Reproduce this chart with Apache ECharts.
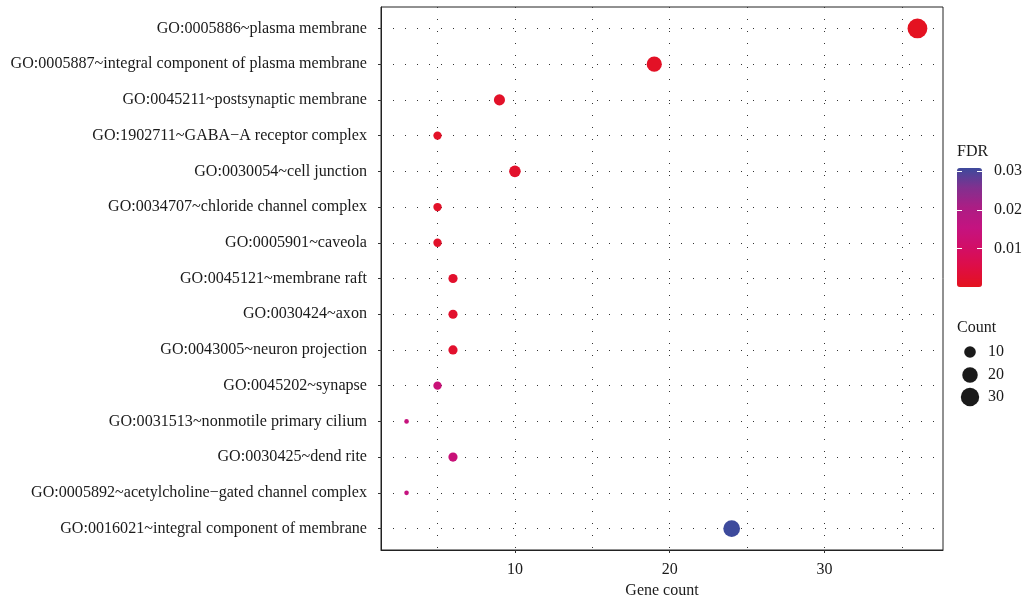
<!DOCTYPE html>
<html>
<head>
<meta charset="utf-8">
<script src="https://cdn.jsdelivr.net/npm/echarts@6/dist/echarts.min.js"></script>
<style>
html,body{margin:0;padding:0;background:#fff;}
#chart{width:1023px;height:599px;}
</style>
</head>
<body>
<div id="chart"></div>
<script>
// ---- data (top row first) ----
const categories = [
  'GO:0005886~plasma membrane',
  'GO:0005887~integral component of plasma membrane',
  'GO:0045211~postsynaptic membrane',
  'GO:1902711~GABA\u2212A receptor complex',
  'GO:0030054~cell junction',
  'GO:0034707~chloride channel complex',
  'GO:0005901~caveola',
  'GO:0045121~membrane raft',
  'GO:0030424~axon',
  'GO:0043005~neuron projection',
  'GO:0045202~synapse',
  'GO:0031513~nonmotile primary cilium',
  'GO:0030425~dend rite',
  'GO:0005892~acetylcholine\u2212gated channel complex',
  'GO:0016021~integral component of membrane'
];
const geneCount = [36, 19, 9, 5, 10, 5, 5, 6, 6, 6, 5, 3, 6, 3, 24];
const fdr = [0.0004, 0.0010, 0.0015, 0.0012, 0.0018, 0.0014, 0.0016, 0.0020, 0.0020, 0.0020, 0.0135, 0.0145, 0.0138, 0.0152, 0.0308];
const xTickLabels = [10, 20, 30];
const xGridValues = [5, 10, 15, 20, 25, 30, 35];
const fdrTicks = [0.01, 0.02, 0.03];
const countLegend = [10, 20, 30];

// ---- helpers ----
const FONT = 'Liberation Serif';
const TXT = '#1a1a1a';
const cMin = Math.min(...geneCount), cMax = Math.max(...geneCount);
function sizeOf(c) {
  const t = Math.max(0, (c - cMin) / (cMax - cMin));
  return 4.6 + 15.2 * Math.sqrt(t);
}
const fdrMin = 0, fdrMax = Math.max(...fdr);
const rowIdx = categories.map((_, i) => i);

// colour bar geometry
const barLeft = 957, barTop = 168, barW = 25, barH = 119;
function barY(v) { return barTop + (1 - (v - fdrMin) / (fdrMax - fdrMin)) * barH; }

const graphics = [];
graphics.push({type: 'text', left: 957, top: 144, style: {text: 'FDR', font: '16px ' + FONT, fill: TXT}});
fdrTicks.forEach(v => {
  const y = Math.round(barY(v)) + 0.5;
  graphics.push({type: 'line', shape: {x1: barLeft, y1: y, x2: barLeft + 5, y2: y}, style: {stroke: '#fff', lineWidth: 1}, z: 100});
  graphics.push({type: 'line', shape: {x1: barLeft + barW - 5, y1: y, x2: barLeft + barW, y2: y}, style: {stroke: '#fff', lineWidth: 1}, z: 100});
  graphics.push({type: 'text', x: 994, y: barY(v), style: {text: v.toFixed(2), font: '16px ' + FONT, fill: TXT, verticalAlign: 'middle'}});
});
graphics.push({type: 'text', left: 957, top: 320, style: {text: 'Count', font: '16px ' + FONT, fill: TXT}});
const legY = [352, 375, 397];
countLegend.forEach((c, i) => {
  graphics.push({type: 'circle', shape: {cx: 970, cy: legY[i], r: sizeOf(c) / 2}, style: {fill: '#1a1a1a'}});
  graphics.push({type: 'text', x: 988, y: legY[i], style: {text: String(c), font: '16px ' + FONT, fill: TXT, verticalAlign: 'middle'}});
});

const gridLineStyle = {type: [1, 11], color: '#333', width: 1};

const option = {
  animation: false,
  backgroundColor: '#fff',
  textStyle: {fontFamily: FONT},
  grid: {left: 381, right: 80, top: 7, bottom: 49, outerBoundsMode: 'none', containLabel: false,
         show: true, borderColor: '#222', borderWidth: 1, backgroundColor: 'transparent'},
  xAxis: {
    type: 'value', min: 1.35, max: 37.65,
    name: 'Gene count', nameLocation: 'middle', nameGap: 33,
    nameTextStyle: {fontFamily: FONT, fontSize: 16, color: TXT},
    axisLine: {show: true, onZero: false, lineStyle: {color: '#222'}},
    axisTick: {show: true, length: 3, customValues: xTickLabels, lineStyle: {color: '#333'}},
    axisLabel: {customValues: xTickLabels, fontFamily: FONT, fontSize: 16, color: TXT, margin: 12},
    splitLine: {show: false}
  },
  yAxis: {
    type: 'value', inverse: true, min: -0.6, max: 14.6,
    axisLine: {show: true, onZero: false, lineStyle: {color: '#222'}},
    axisTick: {show: true, length: 3, customValues: rowIdx, lineStyle: {color: '#333'}},
    axisLabel: {customValues: rowIdx, formatter: v => categories[Math.round(v)], fontFamily: FONT, fontSize: 16.1, color: TXT, margin: 14},
    splitLine: {show: false}
  },
  visualMap: {
    type: 'continuous', min: fdrMin, max: fdrMax, dimension: 2, seriesIndex: 0,
    left: barLeft, top: barTop, itemWidth: barW, itemHeight: barH, padding: 0,
    calculable: false, text: null, showLabel: false, hoverLink: false,
    inRange: {color: ['#E4121E', '#DE0E45', '#D20E67', '#C41380', '#AC1D84', '#82308F', '#3D4A9C']}
  },
  series: [{
    type: 'scatter',
    z: 3,
    data: geneCount.map((c, i) => [c, i, fdr[i]]),
    symbolSize: d => sizeOf(d[0]),
    itemStyle: {opacity: 1},
    markLine: {
      z: 1, silent: true, symbol: ['none', 'none'], label: {show: false},
      lineStyle: gridLineStyle, animation: false,
      data: xGridValues.map(v => ({xAxis: v})).concat(rowIdx.map(i => ({yAxis: i})))
    }
  }],
  graphic: graphics
};

const chart = echarts.init(document.getElementById('chart'), null, {renderer: 'canvas'});
chart.setOption(option);
</script>
</body>
</html>
